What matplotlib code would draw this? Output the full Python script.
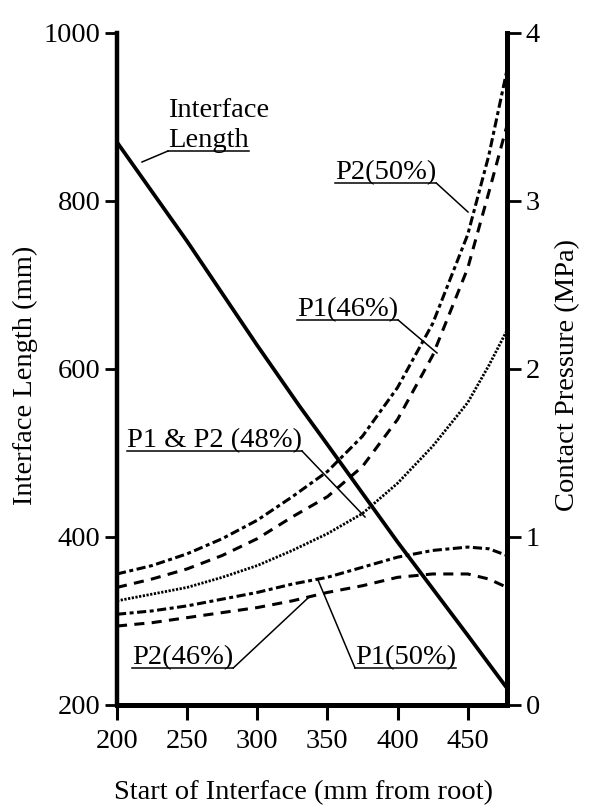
import matplotlib
matplotlib.use("Agg")
import matplotlib.pyplot as plt
from matplotlib.lines import Line2D

plt.rcParams['font.family'] = ['Liberation Serif', 'DejaVu Serif']

# data
x_len = [200, 250, 300, 330, 350, 400, 450, 478]
interface_len = [870, 752, 628, 556, 510, 394, 283, 220]

x_p = [200, 225, 250, 275, 300, 325, 350, 375, 400, 425, 450, 465, 478]
p2_50 = [0.78, 0.83, 0.90, 0.99, 1.10, 1.24, 1.39, 1.60, 1.89, 2.27, 2.80, 3.27, 3.78]
p1_46 = [0.70, 0.75, 0.81, 0.89, 0.99, 1.12, 1.24, 1.42, 1.70, 2.08, 2.60, 3.05, 3.45]
p12_48 = [0.62, 0.66, 0.70, 0.76, 0.83, 0.92, 1.02, 1.14, 1.32, 1.54, 1.80, 2.02, 2.23]
p1_50 = [0.54, 0.56, 0.59, 0.63, 0.67, 0.72, 0.76, 0.82, 0.88, 0.92, 0.94, 0.93, 0.89]
p2_46 = [0.47, 0.49, 0.52, 0.55, 0.58, 0.62, 0.67, 0.71, 0.76, 0.78, 0.78, 0.75, 0.70]

x_ticks = [200, 250, 300, 350, 400, 450]
len_ticks = [200, 400, 600, 800, 1000]
p_ticks = [0, 1, 2, 3, 4]

W, H = 589, 811
FS = 20.5

dashdot = (0, (3.0, 1.15, 1.3, 1.15))
dashed = (0, (3.3, 2.4))
dotted = (0, (0.8, 0.55))

fig = plt.figure(figsize=(W / 100, H / 100), dpi=100)
ax = fig.add_axes([117 / W, 1 - 705 / H, 390 / W, 672 / H])
ax2 = ax.twinx()

ax.plot(x_len, interface_len, color='black', lw=2.7, solid_capstyle='butt')

ax2.plot(x_p, p2_50, color='black', lw=2.2, linestyle=dashdot)
ax2.plot(x_p, p1_46, color='black', lw=2.2, linestyle=dashed)
ax2.plot(x_p, p12_48, color='black', lw=2.0, linestyle=dotted)
ax2.plot(x_p, p1_50, color='black', lw=2.2, linestyle=dashdot)
ax2.plot(x_p, p2_46, color='black', lw=2.2, linestyle=dashed)

ax.set_xlim(200, 478)
ax.set_ylim(200, 1000)
ax2.set_ylim(0, 4)

ax.set_xticks(x_ticks)
ax.set_yticks(len_ticks)
ax2.set_yticks(p_ticks)

for s in ['top', 'right']:
    ax.spines[s].set_visible(False)
for s in ['top', 'left', 'bottom']:
    ax2.spines[s].set_visible(False)
ax.spines['left'].set_linewidth(3.2)
ax.spines['bottom'].set_linewidth(3.6)
ax2.spines['right'].set_linewidth(3.6)

ax.tick_params(axis='y', direction='out', length=8.5, width=2, pad=3.5, labelsize=FS)
ax.tick_params(axis='x', direction='out', length=11, width=2.2, pad=6, labelsize=FS)
ax2.tick_params(axis='y', direction='out', length=10, width=2, pad=3.5, labelsize=FS)

# axis titles
fig.text(304 / W, 1 - 793 / H, 'Start of Interface (mm from root)',
         ha='center', va='center', fontsize=FS)
fig.text(25 / W, 1 - 375 / H, 'Interface Length (mm)', rotation=90,
         ha='center', va='center', fontsize=FS)
fig.text(568 / W, 1 - 375 / H, 'Contact Pressure (MPa)', rotation=90,
         ha='center', va='center', fontsize=FS)

# curve labels: (text, left x, baseline y, leader from which end, leader target) in pixels
labels = [
    ('Length', 168, 147, 'left', (142, 162)),
    ('P2(50%)', 335, 179, 'right', (468, 212)),
    ('P1(46%)', 297, 316, 'right', (437, 353)),
    ('P1 & P2 (48%)', 127, 447, 'right', (365, 517)),
    ('P2(46%)', 132, 664, 'right', (308, 598)),
    ('P1(50%)', 355, 664, 'left', (318, 580)),
]

fig.text(168 / W, 1 - 117 / H, 'Interface', ha='left', va='baseline', fontsize=FS)
texts = []
for txt, x0, yb, _, _ in labels:
    texts.append(fig.text(x0 / W, 1 - yb / H, txt, ha='left', va='baseline', fontsize=FS))

fig.canvas.draw()
renderer = fig.canvas.get_renderer()
for t, (txt, x0, yb, side, target) in zip(texts, labels):
    bb = t.get_window_extent(renderer)
    uy = yb + 4
    fig.add_artist(Line2D([bb.x0 / W, bb.x1 / W], [1 - uy / H, 1 - uy / H],
                          transform=fig.transFigure, color='black', lw=1.1))
    sx = bb.x0 if side == 'left' else bb.x1
    fig.add_artist(Line2D([sx / W, target[0] / W], [1 - uy / H, 1 - target[1] / H],
                          transform=fig.transFigure, color='black', lw=1.1))

fig.savefig('out.png', dpi=100)
